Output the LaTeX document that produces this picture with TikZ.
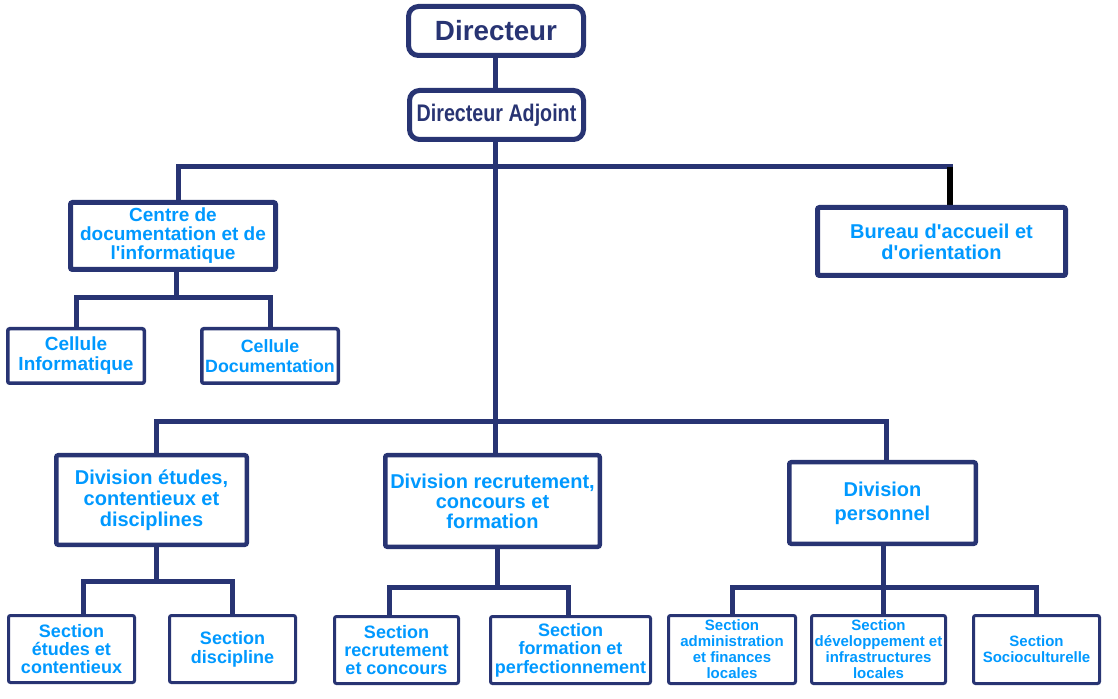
\documentclass[tikz,border=0pt]{standalone}
\usepackage{fontspec}
\setmainfont{Liberation Sans}
\newfontfamily\narrowfont[FakeStretch=0.82]{Liberation Sans}
\usetikzlibrary{backgrounds}
\definecolor{NavyClr}{RGB}{40,52,115}
\definecolor{TextClr}{RGB}{0,153,255}

\tikzset{
  unitbox/.style={draw=NavyClr,fill=white,text=TextClr,align=center,
    inner sep=0pt,rounded corners=1pt},
  headbox/.style={unitbox,line width=2.5pt,rounded corners=5pt,text=NavyClr,
    minimum width=87.5pt,minimum height=24.5pt},
  centrebox/.style={unitbox,line width=2.5pt},
  cellbox/.style={unitbox,line width=1.75pt,minimum width=68.25pt,minimum height=27.25pt,
    font=\fontsize{9.5}{10}\selectfont\bfseries},
  divbox/.style={unitbox,line width=2.25pt,font=\fontsize{10}{10.5}\selectfont\bfseries},
  secbox/.style={unitbox,line width=1.5pt,minimum height=33.5pt,
    font=\fontsize{9}{9.2}\selectfont\bfseries},
  smallsec/.style={secbox,minimum height=34pt,font=\fontsize{7.5}{8}\selectfont\bfseries},
  link/.style={draw=NavyClr,line width=2.5pt,line cap=rect,line join=miter}
}

\begin{document}
\begin{tikzpicture}[x=0.5pt,y=-0.5pt]
\useasboundingbox (0,0) rectangle (1118,699);

% top
\node[headbox,font=\fontsize{13.9}{14}\selectfont\bfseries] (dir) at (496,31) {Directeur};
\node[headbox,minimum width=87pt,font=\narrowfont\fontsize{12}{12}\selectfont\bfseries] (adj) at (496.5,115) {Directeur Adjoint};

% staff units
\node[centrebox,minimum width=102.5pt,minimum height=33.5pt,font=\fontsize{9.5}{9.5}\selectfont\bfseries] (centre) at (173,236)
  {Centre de\\documentation et de\\l\textquotesingle informatique};
\node[centrebox,minimum width=124pt,minimum height=34pt,font=\fontsize{10}{10.5}\selectfont\bfseries] (bureau) at (941.5,241.5)
  {Bureau d\textquotesingle accueil et\\d\textquotesingle orientation};
\node[cellbox] (celInf) at (76,356) {Cellule\\Informatique};
\node[cellbox,font=\fontsize{8.9}{10}\selectfont\bfseries] (celDoc) at (270,356) {Cellule\\Documentation};

% divisions
\node[divbox,minimum width=95.25pt,minimum height=44.75pt] (divEt) at (151.5,500)
  {Division études,\\contentieux et\\disciplines};
\node[divbox,minimum width=107.25pt,minimum height=45.75pt,font=\fontsize{10}{10}\selectfont\bfseries] (divRec) at (492.5,501)
  {Division recrutement,\\concours et\\formation};
\node[divbox,minimum width=93.25pt,minimum height=40.75pt,font=\fontsize{10}{12}\selectfont\bfseries] (divPers) at (882.5,503)
  {Division\\personnel};

% sections
\node[secbox,minimum width=63pt] (secEt) at (71.5,649) {Section\\études et\\contentieux};
\node[secbox,minimum width=63pt,font=\fontsize{9}{9.5}\selectfont\bfseries] (secDis) at (232.5,649) {Section\\discipline};
\node[secbox,minimum width=62pt] (secRec) at (396.5,650) {Section\\recrutement\\et concours};
\node[secbox,minimum width=80pt] (secForm) at (570.5,650) {Section\\formation et\\perfectionnement};
\node[smallsec,minimum width=63.5pt] (secAdm) at (732,649.5) {Section\\administration\\et finances\\locales};
\node[smallsec,minimum width=67pt] (secDev) at (878.5,649.5) {Section\\développement et\\infrastructures\\locales};
\node[smallsec,minimum width=63pt] (secSoc) at (1036.5,649.5) {Section\\Socioculturelle};

% junctions
\coordinate (jTop) at (495,167);
\coordinate (tCen) at (178,167);
\coordinate (tBur) at (950,167);
\coordinate (jCel) at (176,298);
\coordinate (dEt) at (156,422);
\coordinate (dPers) at (886,422);
\coordinate (sEt) at (156,581);
\coordinate (sEtL) at (83,581);
\coordinate (sEtR) at (232,581);
\coordinate (sRec) at (497,587);
\coordinate (sRecL) at (389,587);
\coordinate (sRecR) at (568,587);
\coordinate (sPers) at (883,587);

\begin{scope}[on background layer]
\draw[link] (dir.south -| jTop) -- (adj.north -| jTop);
\draw[link] (adj.south -| jTop) -- (divRec.north -| jTop);
\draw[link] (centre.north -| tCen) |- (tBur);
\draw[link,draw=black,line width=3pt,line cap=butt] (tBur) -- (bureau.north -| tBur);
\draw[link] (centre.south -| jCel) -- (jCel);
\draw[link] (celInf.north) |- (jCel) -| (celDoc.north);
\draw[link] (divEt.north -| dEt) |- (dPers) -- (divPers.north -| dPers);
\draw[link] (divEt.south -| sEt) -- (sEt);
\draw[link] (secEt.north -| sEtL) |- (sEtR) -- (secDis.north -| sEtR);
\draw[link] (divRec.south -| sRec) -- (sRec);
\draw[link] (secRec.north -| sRecL) |- (sRecR) -- (secForm.north -| sRecR);
\draw[link] (divPers.south -| sPers) -- (secDev.north -| sPers);
\draw[link] (secAdm.north) |- (sPers) -| (secSoc.north);
\end{scope}
\end{tikzpicture}
\end{document}
